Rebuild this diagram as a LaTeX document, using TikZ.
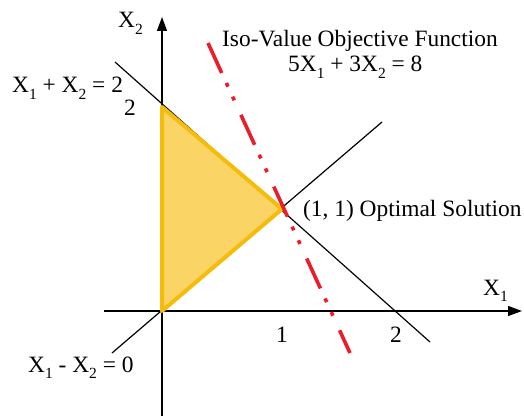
\documentclass[tikz,border=0pt]{standalone}
\usepackage{fontspec}
\setmainfont{Liberation Serif}
\usetikzlibrary{arrows.meta}
\newcommand\lsub[1]{\raisebox{-0.28em}{\fontsize{15.5}{15.5}\selectfont #1}}
\definecolor{regionfill}{HTML}{FAD565}
\definecolor{regionedge}{HTML}{F6BC0A}
\definecolor{isored}{HTML}{EC1C2A}
\begin{document}
\begin{tikzpicture}[x=1pt,y=-1pt,
  lbl/.style={inner sep=0pt,font=\fontsize{23.4}{25}\selectfont},
  axis/.style={line width=1.4pt,-{Triangle[length=14pt,width=10pt]}},
  cline/.style={line width=1.2pt},
  isoline/.style={isored,line width=3.6pt,dash pattern=on 33pt off 11pt on 4pt off 11pt on 4pt off 16pt},
  region/.style={fill=regionfill,draw=regionedge,line width=4pt,line join=round}]
\useasboundingbox (0,0) rectangle (524,417);
% key points
\coordinate (O) at (162,311);
\coordinate (A) at (162,107);
\coordinate (B) at (282,209);
\coordinate (xs) at (104,311);
\coordinate (xe) at (522,311);
\coordinate (ys) at (162,416);
\coordinate (ye) at (162,17);
\coordinate (c1s) at (115,62);
\coordinate (c1e) at (430,342);
\coordinate (c2s) at (112,353);
\coordinate (c2e) at (382,122);
\coordinate (is) at (208,43);
\coordinate (ie) at (350,353);
% axes
\draw[axis] (xs) -- (xe);
\draw[axis] (ys) -- (ye);
% constraint lines
\draw[cline] (c1s) -- (c1e);
\draw[cline] (c2s) -- (c2e);
% feasible region
\draw[region] (O) -- (A) -- (B) -- cycle;
% iso-value line
\draw[isoline] (is) -- (ie);
% labels
\node[lbl,anchor=base west] (lx2) at (118,28) {X\lsub{2}};
\node[lbl,anchor=base west] (lx1) at (483,295) {X\lsub{1}};
\node[lbl,anchor=base west] (lc1) at (12,93) {X\lsub{1} + X\lsub{2} = 2};
\node[lbl,anchor=base] (ly2) at (130,115) {2};
\node[lbl,anchor=base] (lxa) at (282,342) {1};
\node[lbl,anchor=base] (lxb) at (396,342) {2};
\node[lbl,anchor=base west] (liso) at (222,47) {Iso-Value Objective Function};
\node[lbl,anchor=base west] (leq) at (288,72) {5X\lsub{1} + 3X\lsub{2} = 8};
\node[lbl,anchor=base west] (lopt) at (303,216) {(1, 1) Optimal Solution};
\node[lbl,anchor=base west] (lc2) at (28,372) {X\lsub{1} - X\lsub{2} = 0};
\end{tikzpicture}
\end{document}
